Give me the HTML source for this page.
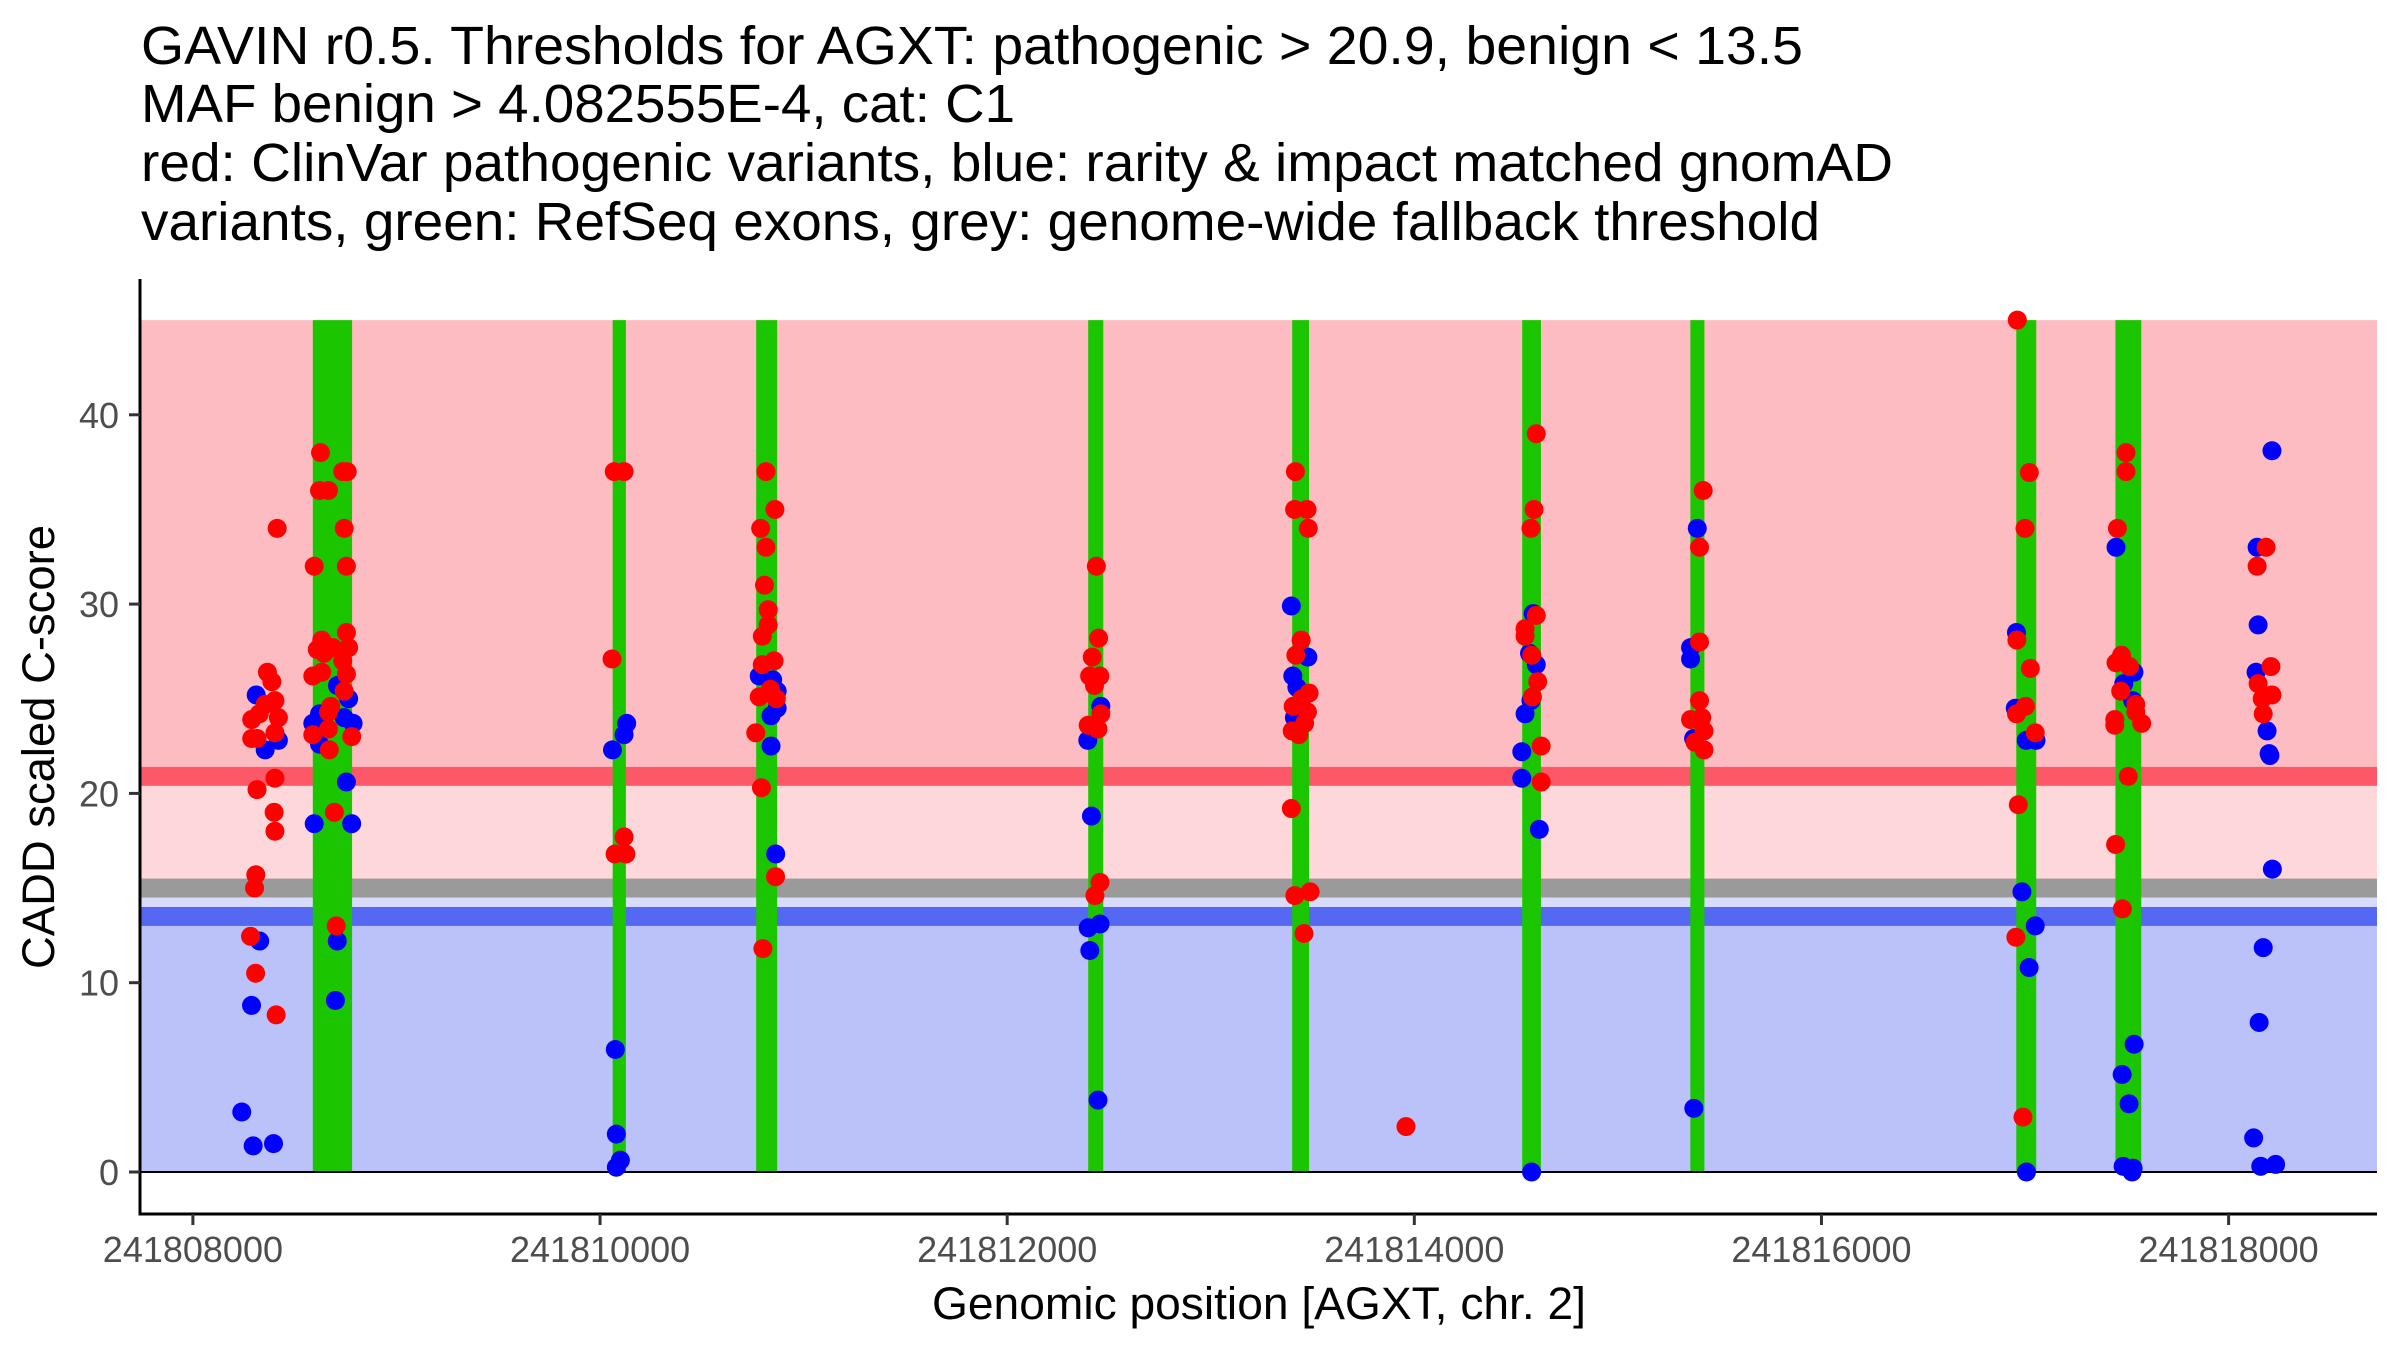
<!DOCTYPE html>
<html><head><meta charset="utf-8"><style>
html,body{margin:0;padding:0;background:#fff;}
svg{display:block;font-family:"Liberation Sans",Arial,sans-serif;}
</style></head><body>
<svg id="chart" width="2400" height="1350" viewBox="0 0 2400 1350" xmlns="http://www.w3.org/2000/svg">
<g font-size="54" fill="#000">
<text x="141" y="64" textLength="1662" lengthAdjust="spacingAndGlyphs">GAVIN r0.5. Thresholds for AGXT: pathogenic &gt; 20.9, benign &lt; 13.5</text>
<text x="141" y="122" textLength="874" lengthAdjust="spacingAndGlyphs">MAF benign &gt; 4.082555E-4, cat: C1</text>
<text x="141" y="181" textLength="1752" lengthAdjust="spacingAndGlyphs">red: ClinVar pathogenic variants, blue: rarity &amp; impact matched gnomAD</text>
<text x="141" y="240" textLength="1679" lengthAdjust="spacingAndGlyphs">variants, green: RefSeq exons, grey: genome-wide fallback threshold</text>
</g>
<g id="bands"></g>
<g id="exons"></g>
<g id="points"></g>
<g id="axes"></g>
<text x="1259" y="1319" font-size="45" text-anchor="middle" textLength="654" lengthAdjust="spacingAndGlyphs">Genomic position [AGXT, chr. 2]</text>
<text transform="translate(54,747) rotate(-90)" font-size="45" text-anchor="middle" textLength="444" lengthAdjust="spacingAndGlyphs">CADD scaled C-score</text>
</svg>
<script>
// ---- data (positions as bp offset from 241808000, scores CADD) ----
const POS0 = 241808000;
const exonStart = [589, 2062, 2767, 4398, 5400, 6530, 7356, 8957, 9444];
const exonEnd   = [782, 2127, 2870, 4472, 5483, 6622, 7425, 9055, 9571];
const pathThreshold = 20.9;
const benignThreshold = 13.5;
const fallbackThreshold = 15.0;
const xTickValues = [241808000, 241810000, 241812000, 241814000, 241816000, 241818000];
const yTickValues = [0, 10, 20, 30, 40];

const bluePos = [311,420,355,240,296,396,328,288,
 710,765,622,743,787,589,622,754,596,780,709,700,
 2131,2118,2061,2075,2080,2100,2080,
 2782,2848,2870,2870,2840,2840,2863,
 4460,4396,4414,4398,4456,4406,4446,
 5396,5477,5403,5423,5411,
 6584,6566,6599,6573,6544,6528,6528,6614,6576,
 7390,7357,7357,7372,7373,
 8958,8952,9006,9054,8985,9050,9020,9007,
 9447,9535,9485,9529,9536,9477,9511,9482,9531,9526,
 10213,10140,10145,10135,10189,10199,10203,10215,10170,10150,10123,10158,10231];
const blueScore = [25.2,22.8,22.3,3.17,1.38,1.5,12.2,8.8,
 25.7,25.0,24.2,24.0,23.7,23.7,22.6,20.6,18.4,18.4,12.2,9.06,
 23.7,23.1,22.3,6.47,2.0,0.62,0.25,
 26.2,26.0,25.4,24.5,24.1,22.5,16.8,
 24.6,22.8,18.8,12.9,13.1,11.7,3.8,
 29.9,27.2,26.2,25.6,24.0,
 29.5,27.4,26.8,24.9,24.2,22.2,20.8,18.1,0.0,
 34.0,27.7,27.1,22.9,3.36,
 28.5,24.5,22.8,22.8,14.8,13.0,10.8,0.0,
 33.0,26.4,25.8,24.9,6.75,5.15,3.6,0.3,0.2,0.0,
 38.1,33.0,28.9,26.4,23.3,22.1,22.0,16.0,11.85,7.9,1.8,0.3,0.4];

const redPos = [414,366,388,403,355,420,289,326,403,289,315,403,315,399,403,309,303,283,308,409,
 627,758,736,622,666,743,596,754,754,633,611,688,765,644,736,754,589,633,743,677,666,666,589,780,670,695,704,
 2070,2118,2059,2118,2074,2127,
 2815,2859,2789,2815,2808,2826,2826,2797,2855,2797,2837,2782,2866,2765,2793,2862,2800,
 4438,4449,4418,4405,4455,4429,4460,4398,4446,4456,4431,
 5416,5412,5473,5479,5444,5418,5483,5448,5405,5475,5461,5400,5433,5396,5488,5413,5458,5959,
 6599,6588,6573,6599,6544,6544,6577,6606,6580,6623,6623,
 7419,7401,7401,7401,7357,7412,7423,7379,7423,
 8962,9021,9000,8960,9026,9002,8958,9050,8967,8955,8990,
 9496,9496,9454,9474,9447,9513,9470,9544,9544,9441,9441,9573,9507,9445,9478,
 10184,10140,10208,10145,10213,10165,10170];
const redScore = [34.0,26.4,25.9,24.9,24.7,24.0,23.9,24.2,23.2,22.9,22.9,20.8,20.2,19.0,18.0,15.7,15.0,12.45,10.5,8.3,
 38.0,37.0,37.0,36.0,36.0,34.0,32.0,32.0,28.5,28.1,27.6,27.7,27.7,27.4,27.0,26.3,26.2,26.4,25.4,24.6,24.3,23.4,23.1,23.0,22.3,19.0,13.0,
 37.0,37.0,27.1,17.7,16.8,16.8,
 37.0,35.0,34.0,33.0,31.0,29.7,28.9,28.3,27.0,26.8,25.5,25.1,25.0,23.2,20.3,15.6,11.8,
 32.0,28.2,27.2,26.2,26.2,25.7,24.2,23.6,23.4,15.3,14.6,
 37.0,35.0,35.0,34.0,28.1,27.3,25.3,25.0,24.6,24.3,23.7,23.3,23.1,19.2,14.8,14.6,12.6,2.4,
 39.0,35.0,34.0,29.4,28.7,28.3,27.3,25.9,25.1,22.5,20.6,
 36.0,33.0,28.0,24.9,23.9,24.0,23.3,22.7,22.3,
 45.0,36.95,34.0,28.1,26.6,24.6,24.2,23.2,19.4,12.4,2.9,
 38.0,37.0,34.0,27.3,26.9,26.7,25.4,24.7,24.3,23.9,23.6,23.7,20.9,17.3,13.9,
 33.0,32.0,26.7,25.8,25.2,25.0,24.2];

// ---- scales ----
const PL = 141, PR = 2377;
const xOf = bp => 192.9 + (bp - POS0) * 0.20357;
const xRel = off => xOf(POS0 + off);
const yOf = v => 1172 - v * 18.93;
const NS = 'http://www.w3.org/2000/svg';
function mk(tag, attrs, parent) {
  const e = document.createElementNS(NS, tag);
  for (const k in attrs) e.setAttribute(k, attrs[k]);
  parent.appendChild(e);
  return e;
}
const bands = document.getElementById('bands');
const exG = document.getElementById('exons');
const ptG = document.getElementById('points');
const axG = document.getElementById('axes');

function band(name, v1, v2, color) {
  const r = mk('rect', {x: PL, y: yOf(v2), width: PR - PL, height: yOf(v1) - yOf(v2), fill: color}, bands);
  
  
}
band('pathogenic-region', pathThreshold, 45, '#fdbcc1');
band('uncertain-region', fallbackThreshold, pathThreshold, '#fed7db');
band('fallback-region', benignThreshold, fallbackThreshold, '#d9dbfb');
band('benign-region', 0, benignThreshold, '#bbc1f9');
band('pathogenic-threshold-line', pathThreshold - 0.5, pathThreshold + 0.5, '#fd5868');
band('fallback-threshold-line', fallbackThreshold - 0.5, fallbackThreshold + 0.5, '#9a9a9a');
band('benign-threshold-line', benignThreshold - 0.5, benignThreshold + 0.5, '#5468f2');

for (let i = 0; i < exonStart.length; i++) {
  const r = mk('rect', {x: xRel(exonStart[i]), y: yOf(45), width: xRel(exonEnd[i]) - xRel(exonStart[i]), height: yOf(0) - yOf(45), fill: '#1bc600'}, exG);
  
  
}
const zl = mk('line', {x1: PL, x2: PR, y1: yOf(0), y2: yOf(0), stroke: '#000', 'stroke-width': 2}, exG);



for (let i = 0; i < bluePos.length; i++) {
  const c = mk('circle', {cx: xRel(bluePos[i]), cy: yOf(blueScore[i]), r: 9.5, fill: '#0000ff'}, ptG);
  
  
}
for (let i = 0; i < redPos.length; i++) {
  const c = mk('circle', {cx: xRel(redPos[i]), cy: yOf(redScore[i]), r: 9.5, fill: '#ff0000'}, ptG);
  
  
}

// axes
const ya = mk('line', {x1: 140, x2: 140, y1: 279, y2: 1215.5, stroke: '#000', 'stroke-width': 3}, axG);


const xa = mk('line', {x1: 138.5, x2: PR, y1: 1214, y2: 1214, stroke: '#000', 'stroke-width': 3}, axG);


yTickValues.forEach(v => {
  const t = mk('line', {x1: 129, x2: 140, y1: yOf(v), y2: yOf(v), stroke: '#333', 'stroke-width': 3}, axG);
  
  
  const l = mk('text', {x: 119, y: yOf(v) + 13, 'font-size': 36, fill: '#4d4d4d', 'text-anchor': 'end'}, axG);
  l.textContent = String(v);
  
  
});
xTickValues.forEach(v => {
  const t = mk('line', {x1: xOf(v), x2: xOf(v), y1: 1214, y2: 1225, stroke: '#333', 'stroke-width': 3}, axG);
  
  
  const l = mk('text', {x: xOf(v), y: 1262, 'font-size': 36, fill: '#4d4d4d', 'text-anchor': 'middle'}, axG);
  l.textContent = String(v);
  
  
});
</script>
</body></html>
